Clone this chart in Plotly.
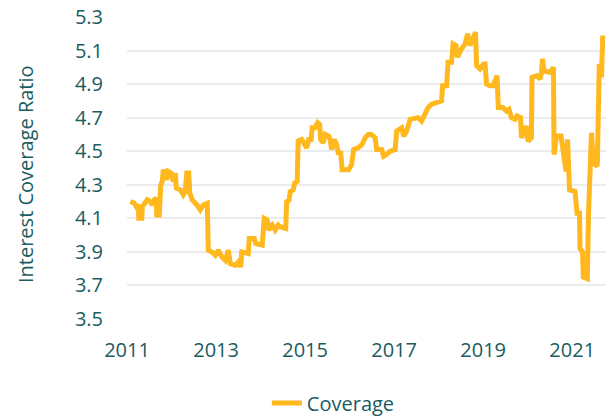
import datetime as dt
import plotly.graph_objects as go

# Decimal-year positions and interest coverage ratio
year_pos = [
    2011.074, 2011.164, 2011.209, 2011.254, 2011.265, 2011.332, 2011.343, 2011.411, 2011.456, 2011.523,
    2011.568, 2011.613, 2011.658, 2011.669, 2011.725, 2011.759, 2011.792, 2011.815, 2011.860, 2011.893,
    2011.927, 2011.994, 2012.039, 2012.084, 2012.107, 2012.196, 2012.264, 2012.309, 2012.342, 2012.387,
    2012.410, 2012.466, 2012.567, 2012.645, 2012.713, 2012.802, 2012.825, 2012.903, 2012.982, 2013.049,
    2013.128, 2013.207, 2013.274, 2013.319, 2013.431, 2013.498, 2013.554, 2013.577, 2013.723, 2013.745,
    2013.857, 2013.891, 2014.037, 2014.082, 2014.149, 2014.183, 2014.262, 2014.329, 2014.396, 2014.441,
    2014.565, 2014.587, 2014.643, 2014.666, 2014.733, 2014.767, 2014.823, 2014.845, 2014.924, 2014.969,
    2015.036, 2015.081, 2015.137, 2015.159, 2015.227, 2015.283, 2015.328, 2015.350, 2015.406, 2015.451,
    2015.530, 2015.563, 2015.597, 2015.653, 2015.709, 2015.754, 2015.799, 2015.833, 2015.979, 2016.046,
    2016.091, 2016.192, 2016.282, 2016.349, 2016.416, 2016.484, 2016.574, 2016.607, 2016.719, 2016.764,
    2016.832, 2016.910, 2017.022, 2017.056, 2017.168, 2017.213, 2017.281, 2017.359, 2017.471, 2017.539,
    2017.617, 2017.696, 2017.763, 2017.842, 2017.954, 2018.066, 2018.089, 2018.178, 2018.212, 2018.291,
    2018.324, 2018.392, 2018.425, 2018.493, 2018.594, 2018.650, 2018.706, 2018.773, 2018.829, 2018.852,
    2018.930, 2019.009, 2019.043, 2019.076, 2019.155, 2019.222, 2019.312, 2019.341, 2019.447, 2019.525,
    2019.581, 2019.637, 2019.716, 2019.761, 2019.840, 2019.862, 2019.918, 2019.974, 2020.008, 2020.086,
    2020.098, 2020.210, 2020.277, 2020.311, 2020.333, 2020.367, 2020.502, 2020.580, 2020.592, 2020.648,
    2020.749, 2020.805, 2020.861, 2020.895, 2020.939, 2021.063, 2021.108, 2021.164, 2021.175, 2021.231,
    2021.249, 2021.339, 2021.366, 2021.433, 2021.474, 2021.563, 2021.586, 2021.608, 2021.658, 2021.685,
]
coverage = [
    4.20, 4.19, 4.17, 4.18, 4.10, 4.10, 4.17, 4.20, 4.21, 4.20,
    4.18, 4.21, 4.22, 4.12, 4.12, 4.30, 4.32, 4.39, 4.36, 4.33,
    4.38, 4.37, 4.32, 4.37, 4.28, 4.27, 4.24, 4.26, 4.37, 4.37,
    4.25, 4.21, 4.18, 4.15, 4.18, 4.19, 3.91, 3.90, 3.88, 3.91,
    3.87, 3.85, 3.91, 3.83, 3.82, 3.84, 3.81, 3.90, 3.89, 3.98,
    3.98, 3.95, 3.94, 4.10, 4.09, 4.03, 4.06, 4.03, 4.06, 4.05,
    4.04, 4.20, 4.21, 4.26, 4.27, 4.31, 4.32, 4.56, 4.57, 4.55,
    4.52, 4.57, 4.57, 4.64, 4.64, 4.67, 4.66, 4.57, 4.55, 4.60,
    4.59, 4.57, 4.51, 4.57, 4.54, 4.48, 4.50, 4.39, 4.39, 4.42,
    4.51, 4.52, 4.54, 4.58, 4.60, 4.60, 4.58, 4.51, 4.51, 4.47,
    4.48, 4.50, 4.51, 4.62, 4.64, 4.59, 4.62, 4.69, 4.70, 4.70,
    4.68, 4.72, 4.76, 4.78, 4.79, 4.80, 4.89, 4.89, 5.03, 5.03,
    5.14, 5.13, 5.06, 5.10, 5.14, 5.20, 5.13, 5.17, 5.21, 5.01,
    4.99, 5.02, 5.02, 4.90, 4.89, 4.89, 4.95, 4.76, 4.76, 4.74,
    4.75, 4.70, 4.69, 4.71, 4.70, 4.58, 4.62, 4.65, 4.56, 4.58,
    4.94, 4.95, 4.93, 4.97, 5.05, 4.98, 4.97, 5.00, 4.48, 4.59,
    4.59, 4.49, 4.38, 4.57, 4.27, 4.26, 4.13, 4.13, 3.92, 3.90,
    3.75, 3.74, 4.13, 4.61, 4.43, 4.41, 5.00, 5.02, 4.94, 5.19,
]
x_ticks = [2011, 2013, 2015, 2017, 2019, 2021]
y_ticks = [3.5, 3.7, 3.9, 4.1, 4.3, 4.5, 4.7, 4.9, 5.1, 5.3]
x_start, x_end = 2011.0, 2021.759


def to_date(yf):
    y = int(yf)
    start = dt.datetime(y, 1, 1)
    days = (dt.datetime(y + 1, 1, 1) - start).days
    return (start + dt.timedelta(days=(yf - y) * days)).strftime("%Y-%m-%d %H:%M")


dates = [to_date(v) for v in year_pos]

TEAL = "#1a5c60"
FONT = "Open Sans"

fig = go.Figure()
fig.add_trace(go.Scatter(
    x=dates, y=coverage, mode="lines", name="Coverage",
    line=dict(color="#FFB81E", width=5),
))

fig.update_layout(
    width=613, height=417,
    margin=dict(l=127, r=7, t=17, b=98, autoexpand=False),
    paper_bgcolor="white", plot_bgcolor="white",
    font=dict(family=FONT, size=20, color=TEAL),
    showlegend=True,
    legend=dict(orientation="h", x=0.292, xanchor="left", y=-0.278, yanchor="middle",
                font=dict(size=20, color=TEAL), bgcolor="rgba(0,0,0,0)"),
    annotations=[dict(
        text="Interest Coverage Ratio", textangle=-90, showarrow=False,
        xref="paper", yref="paper", x=-0.213, y=0.48, xanchor="center", yanchor="middle",
        font=dict(size=20, color=TEAL),
    )],
)
fig.update_xaxes(
    type="date",
    range=[to_date(x_start), to_date(x_end)],
    tickvals=[f"{t}-01-01" for t in x_ticks],
    ticktext=[str(t) for t in x_ticks],
    showgrid=False, zeroline=False, showline=False, automargin=False,
    ticks="", ticklabelstandoff=17,
    tickfont=dict(size=20, color=TEAL),
)
fig.update_yaxes(
    range=[3.5, 5.3], tickvals=y_ticks, tickformat=".1f",
    showgrid=True, gridcolor="#ececec", gridwidth=1.5, automargin=False,
    zeroline=False, showline=False, ticks="", ticklabelstandoff=23,
    tickfont=dict(size=20, color=TEAL),
)

fig.write_html(
    "out.html",
    config={"displayModeBar": False},
    post_script="document.body.style.margin='0';document.body.style.overflow='hidden';",
)
